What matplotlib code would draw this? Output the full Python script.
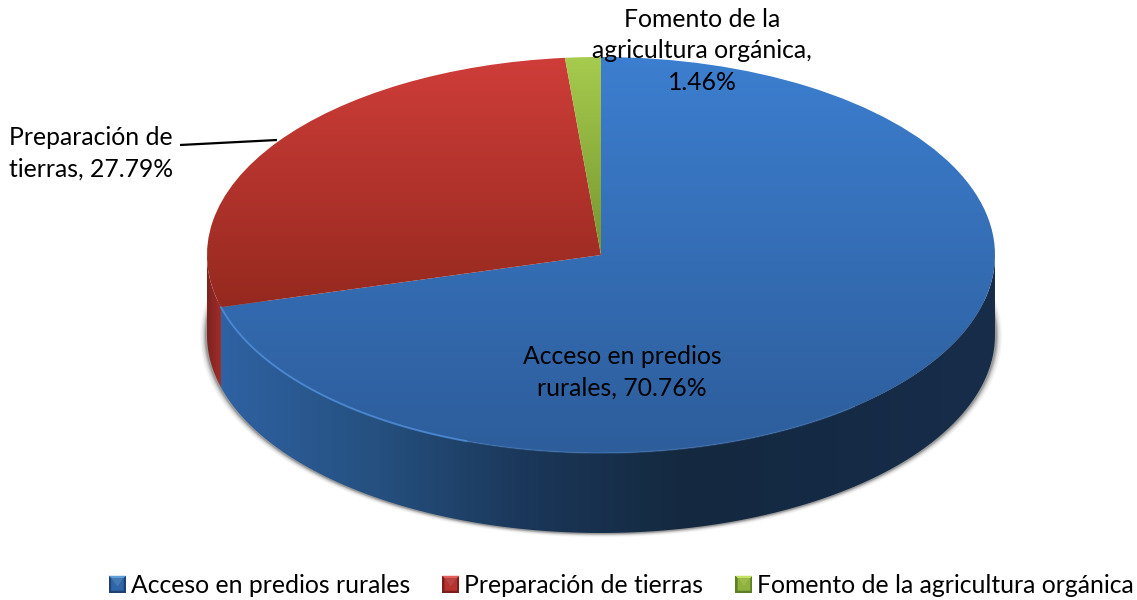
import numpy as np
import matplotlib
matplotlib.use("Agg")
import matplotlib.pyplot as plt
from matplotlib.colors import LinearSegmentedColormap
from matplotlib.legend_handler import HandlerBase
from matplotlib.patches import Patch, Polygon

categories = ["Acceso en predios rurales", "Preparación de tierras", "Fomento de la agricultura orgánica"]
values = [70.76, 27.79, 1.46]
labels = ["Acceso en predios\nrurales, 70.76%", "Preparación de\ntierras, 27.79%", "Fomento de la\nagricultura orgánica,\n1.46%"]

top_colors = [("#3c7ecf", "#2d5d9b"), ("#cf3d39", "#95291f"), ("#a6cb4e", "#76962f")]
wall_colors = [["#2f62a3", "#25507f", "#1a3658", "#14293f", "#152a45", "#172d4a"],
               ["#7c2320", "#a02c29"],
               ["#76962f", "#76962f"]]
legend_colors = [("#2f66ab", "#5f9fdc", "#1d4273"), ("#b8322f", "#e2605a", "#7a1f1d"), ("#8fb23f", "#c4e264", "#5f7f25")]

W, H = 1137, 600
cx, cy, rx, ry, depth = 601, 255, 394, 198, 80

plt.rcParams["font.family"] = ["Lato", "DejaVu Sans"]


def px(x, y):
    # pixel position in the picture -> data position
    return (x - cx) / rx, (cy - y) / ry


def fill_gradient(ax, artist, colors):
    cmap = LinearSegmentedColormap.from_list("g", colors)
    grad = np.linspace(0, 1, 256).reshape(-1, 1)
    box = artist.get_path().get_extents(artist.get_patch_transform())
    im = ax.imshow(grad, cmap=cmap, extent=(box.x0, box.x1, box.y0, box.y1), origin="upper",
                   aspect="auto", zorder=artist.get_zorder())
    im.set_clip_path(artist)
    artist.set_facecolor("none")


class BevelHandler(HandlerBase):
    """ square legend key with a light top and a dark bottom
    """

    def create_artists(self, legend, orig_handle, xdescent, ydescent, width, height, fontsize, trans):
        base, light, dark = orig_handle.get_gid().split(",")
        x0, y0 = -xdescent, -ydescent
        x1, y1 = x0 + width, y0 + height
        m = width * 0.13
        body = Polygon([(x0, y0), (x1, y0), (x1, y1), (x0, y1)], facecolor=dark, edgecolor="none", transform=trans)
        top = Polygon([(x0, y1), (x1, y1), (x1 - m, y1 - m), (x0 + m, y1 - m)], facecolor=light, edgecolor="none", transform=trans)
        mid = Polygon([(x0 + m, y1 - m), (x1 - m, y1 - m), ((x0 + x1) / 2, y0 + height * 0.35)], facecolor=light, edgecolor="none", alpha=0.6, transform=trans)
        low = Polygon([(x0 + m, y0 + m), (x1 - m, y0 + m), (x1 - m, y1 - m), ((x0 + x1) / 2, y0 + height * 0.35), (x0 + m, y1 - m)], facecolor=base, edgecolor="none", transform=trans)
        return [body, low, top, mid]


fig = plt.figure(figsize=(W / 100, H / 100), dpi=100)
ax = fig.add_axes([0, 0, 1, 1])
wedges, _ = ax.pie(values, startangle=90, counterclock=False, radius=1)
ax.set_aspect("auto")
d = depth / ry

# soft shadow under the wall
t = np.radians(np.linspace(170, 370, 300))
for off, a in zip([7, 5.5, 4, 3, 2], [0.04, 0.06, 0.08, 0.12, 0.16]):
    shadow = np.c_[np.cos(t) * (1 + off / rx), np.sin(t) * (1 + off * 0.4 / ry) - d - off * 0.2 / ry]
    ax.add_patch(Polygon(shadow, closed=True, facecolor="black", edgecolor="none", alpha=a, zorder=0.5))

# outer wall, only the front part of each slice can be seen
for wedge, colors in zip(wedges, wall_colors):
    t1, t2 = wedge.theta1 % 360, wedge.theta2 % 360
    if t2 <= t1:
        t2 += 360
    a, b = max(t1, 180), min(t2, 360)
    if b <= a:
        continue
    t = np.radians(np.linspace(a, b, 200))
    xs, ys = np.cos(t), np.sin(t)
    pts = np.c_[np.r_[xs, xs[::-1]], np.r_[ys, ys[::-1] - d]]
    wall = Polygon(pts, closed=True, edgecolor="none", zorder=1)
    ax.add_patch(wall)
    cmap = LinearSegmentedColormap.from_list("w", colors)
    im = ax.imshow(np.linspace(0, 1, 256).reshape(1, -1), cmap=cmap, aspect="auto",
                   extent=(xs.min(), xs.max(), ys.min() - d, ys.max()), zorder=1)
    im.set_clip_path(wall)
    wall.set_facecolor("none")

# top face
for wedge, colors in zip(wedges, top_colors):
    wedge.set_zorder(2)
    wedge.set_edgecolor("none")
    fill_gradient(ax, wedge, colors)

# light rim on the front edge of the big slice, fades to the right
t_start = wedges[0].theta1 % 360
t = np.radians(np.linspace(t_start, 250, 80))
ax.plot(np.cos(t), np.sin(t), color="#4f8fdc", lw=1.4, alpha=0.8, zorder=3)
t = np.radians(np.linspace(250, 310, 80))
ax.plot(np.cos(t), np.sin(t), color="#4f8fdc", lw=1.2, alpha=0.3, zorder=3)

# labels
text_kw = dict(fontsize=17.8, color="black", ha="center", va="center", linespacing=1.45, zorder=5)
ax.text(*px(622, 372), labels[0], **text_kw)
ax.text(*px(91, 153), labels[1], **text_kw)
ax.text(*px(702, 51), labels[2], **text_kw)
ax.plot(*zip(px(180, 145), px(277, 140)), color="black", lw=1.6, zorder=4, solid_capstyle="butt")

handles = [Patch(gid=",".join(c)) for c in legend_colors]
leg = ax.legend(handles, categories, loc="center", bbox_to_anchor=(621.5 / W, 1 - 585.5 / H), ncol=3,
                frameon=False, fontsize=17.8, handlelength=0.69, handleheight=0.69, handletextpad=0.2,
                columnspacing=1.3, borderpad=0, labelcolor="black",
                handler_map={Patch: BevelHandler()})

ax.set_xlim((0 - cx) / rx, (W - cx) / rx)
ax.set_ylim((cy - H) / ry, cy / ry)
ax.axis("off")
fig.savefig("out.png", dpi=100)
